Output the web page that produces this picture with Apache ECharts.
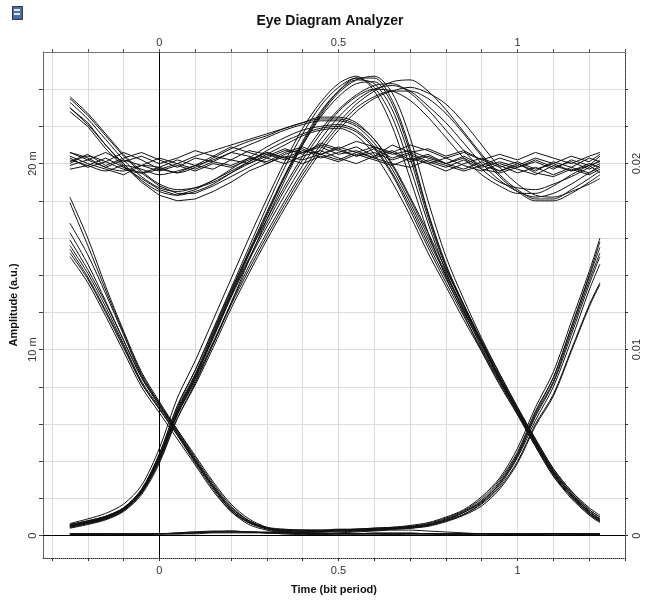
<!DOCTYPE html>
<html>
<head>
<meta charset="utf-8">
<script src="https://cdn.jsdelivr.net/npm/echarts@6/dist/echarts.min.js"></script>
<style>html,body{margin:0;padding:0;background:#fff}#chart{width:660px;height:600px}</style>
</head>
<body>
<div id="chart"></div>
<script>
// Time samples (bit period)
const timePoints = [-0.25,-0.2,-0.15,-0.1,-0.05,0,0.05,0.1,0.15,0.2,0.25,0.3,0.35,0.4,0.45,0.5,0.55,0.6,0.65,0.7,0.75,0.8,0.85,0.9,0.95,1,1.05,1.1,1.15,1.2,1.23];

// Amplitude values in milli-units (a.u. x 1e-3), grouped by bit pattern
const traces000 = [
  [0.1,0.1,0.05,0.1,0.1,0.1,0.15,0.2,0.25,0.25,0.2,0.15,0.1,0.1,0.05,0.1,0.1,0.1,0.1,0.1,0.1,0.05,0.1,0.1,0.1,0.1,0.1,0.1,0.1,0.1,0.1],
  [0.05,0.1,0.1,0.05,0.05,0.1,0.1,0.15,0.2,0.2,0.2,0.15,0.1,0.05,0.1,0.15,0.2,0.25,0.3,0.3,0.25,0.2,0.15,0.1,0.1,0.05,0.05,0.1,0.1,0.05,0.05]
];
const traces001 = [
  [0.1,0.05,0.1,0.1,0.05,0.1,0.1,0.15,0.2,0.2,0.2,0.15,0.15,0.15,0.2,0.2,0.25,0.3,0.35,0.45,0.6,0.85,1.25,1.85,2.8,4.3,6.4,8.2,10.8,13.5,15.0],
  [0.1,0.1,0.1,0.05,0.1,0.1,0.15,0.2,0.2,0.25,0.2,0.2,0.2,0.2,0.25,0.3,0.3,0.35,0.4,0.5,0.65,0.95,1.35,2.0,3.0,4.5,6.7,8.5,11.2,13.9,15.5],
  [0.1,0.1,0.1,0.1,0.1,0.1,0.1,0.1,0.15,0.15,0.15,0.15,0.2,0.2,0.2,0.25,0.25,0.3,0.35,0.4,0.55,0.8,1.15,1.75,2.7,4.2,6.2,8.0,10.5,13.2,14.6]
];
const traces100 = [
  [15.6,14.1,12.3,10.3,8.3,6.9,5.5,4.0,2.6,1.4,0.7,0.35,0.2,0.15,0.1,0.1,0.1,0.1,0.05,0.1,0.1,0.1,0.1,0.1,0.05,0.1,0.1,0.1,0.1,0.1,0.1],
  [18.2,16.0,13.4,11.0,8.8,7.2,5.7,4.2,2.8,1.6,0.8,0.4,0.2,0.15,0.15,0.1,0.1,0.1,0.1,0.1,0.1,0.1,0.1,0.1,0.1,0.1,0.05,0.1,0.1,0.1,0.1],
  [15.2,13.8,12.0,10.1,8.2,6.8,5.4,3.9,2.5,1.3,0.6,0.3,0.15,0.1,0.1,0.1,0.1,0.15,0.15,0.15,0.1,0.1,0.1,0.1,0.1,0.1,0.1,0.1,0.05,0.05,0.05],
  [16.8,15.1,13.0,10.8,8.6,7.1,5.7,4.3,2.9,1.7,0.9,0.45,0.25,0.15,0.1,0.1,0.1,0.1,0.1,0.1,0.1,0.1,0.05,0.1,0.1,0.1,0.1,0.1,0.1,0.1,0.1]
];
const traces101 = [
  [16.3,14.6,12.6,10.5,8.5,7.0,5.6,4.1,2.7,1.5,0.8,0.45,0.35,0.3,0.3,0.3,0.35,0.4,0.45,0.5,0.6,0.85,1.25,1.8,2.8,4.3,6.5,8.3,11.0,13.7,15.2],
  [15.4,13.9,12.1,10.2,8.2,6.8,5.4,4.0,2.6,1.4,0.75,0.4,0.3,0.3,0.25,0.3,0.3,0.35,0.4,0.45,0.55,0.8,1.15,1.7,2.6,4.0,6.0,7.6,10.0,12.4,13.6],
  [17.9,15.6,13.2,10.9,8.7,7.1,5.6,4.1,2.7,1.5,0.8,0.4,0.3,0.25,0.25,0.3,0.35,0.4,0.4,0.45,0.6,0.9,1.3,1.9,2.9,4.4,6.6,8.5,11.2,14.0,15.8],
  [15.0,13.6,11.8,9.9,8.0,6.6,5.2,3.8,2.4,1.3,0.7,0.4,0.3,0.3,0.3,0.35,0.35,0.4,0.45,0.55,0.7,1.0,1.4,2.1,3.1,4.7,6.9,8.8,11.5,14.2,16.0],
  [15.9,14.3,12.5,10.5,8.5,7.0,5.5,4.0,2.6,1.4,0.7,0.4,0.3,0.25,0.25,0.25,0.3,0.3,0.35,0.4,0.5,0.75,1.1,1.6,2.5,3.9,5.9,7.5,9.9,12.3,13.5]
];
const traces010 = [
  [0.55,0.75,1.0,1.45,2.4,4.2,6.8,8.7,10.9,13.1,15.3,17.4,19.4,21.2,22.8,23.9,24.5,24.3,22.9,20.3,17.1,14.4,12.3,10.3,8.4,6.7,5.0,3.4,2.2,1.2,0.8],
  [0.45,0.65,0.9,1.35,2.3,4.1,6.6,8.5,10.7,12.9,15.1,17.2,19.3,21.1,22.7,23.9,24.6,24.6,23.4,20.8,17.4,14.6,12.4,10.4,8.5,6.8,5.1,3.5,2.3,1.3,0.9],
  [0.6,0.8,1.05,1.5,2.5,4.4,7.0,8.9,11.1,13.3,15.5,17.7,19.8,21.6,23.1,24.1,24.6,24.1,22.5,19.8,16.8,14.2,12.1,10.1,8.3,6.6,4.9,3.3,2.1,1.15,0.75],
  [0.5,0.7,0.95,1.4,2.35,4.2,6.7,8.6,10.8,13.0,15.2,17.3,19.3,21.0,22.5,23.6,24.3,24.4,23.2,20.6,17.3,14.5,12.4,10.4,8.5,6.7,5.0,3.4,2.2,1.3,0.85],
  [0.4,0.6,0.85,1.3,2.2,3.9,6.3,8.2,10.3,12.5,14.8,17.0,19.1,21.0,22.6,23.8,24.5,24.7,23.8,21.4,18.0,15.0,12.7,10.6,8.7,6.9,5.2,3.6,2.4,1.4,1.0],
  [0.65,0.9,1.2,1.7,2.7,4.7,7.4,9.4,11.6,13.8,16.0,18.1,20.1,21.9,23.3,24.3,24.7,23.9,22.0,19.2,16.3,13.9,11.9,9.9,8.1,6.5,4.8,3.2,2.0,1.1,0.7]
];
const traces011 = [
  [0.55,0.75,1.0,1.45,2.4,4.2,6.6,8.5,10.6,12.8,14.8,16.6,18.3,19.9,21.3,22.5,23.4,24.0,24.2,23.9,23.1,22.2,21.1,20.0,19.1,18.5,18.2,18.4,18.9,19.5,19.8],
  [0.5,0.7,0.95,1.4,2.3,4.1,6.5,8.4,10.4,12.5,14.5,16.3,18.0,19.6,21.0,22.2,23.2,23.9,24.4,24.5,23.9,22.9,21.7,20.5,19.4,18.6,18.1,18.1,18.6,19.2,19.6],
  [0.6,0.8,1.05,1.5,2.45,4.3,6.7,8.6,10.7,12.9,14.9,16.8,18.6,20.2,21.6,22.8,23.6,24.0,23.9,23.4,22.5,21.4,20.3,19.4,18.8,18.4,18.4,18.8,19.4,19.9,20.1],
  [0.45,0.65,0.9,1.35,2.3,4.1,6.5,8.3,10.3,12.4,14.3,16.1,17.8,19.4,20.8,22.0,23.0,23.6,23.9,23.9,23.5,22.7,21.6,20.4,19.3,18.5,18.0,18.0,18.4,19.0,19.4],
  [0.5,0.7,0.95,1.45,2.45,4.4,6.9,8.9,11.0,13.2,15.2,17.0,18.8,20.4,21.8,22.9,23.7,24.2,24.3,23.8,22.9,21.8,20.7,19.7,19.0,18.7,18.6,18.9,19.3,19.8,20.2],
  [0.55,0.75,1.0,1.4,2.3,4.0,6.3,8.1,10.1,12.2,14.1,15.9,17.6,19.2,20.6,21.8,22.8,23.5,23.9,24.1,23.8,23.2,22.2,21.0,19.8,18.9,18.3,18.2,18.5,18.9,19.2]
];
const traces110 = [
  [23.3,22.4,21.3,20.2,19.3,18.7,18.5,18.7,19.1,19.7,20.3,20.9,21.4,21.8,22.0,22.1,21.8,20.9,19.5,17.7,15.7,13.8,12.0,10.2,8.4,6.7,5.0,3.4,2.2,1.3,0.9],
  [23.0,22.1,21.0,20.0,19.1,18.5,18.3,18.5,18.9,19.5,20.1,20.7,21.2,21.6,21.9,22.0,21.7,20.8,19.4,17.5,15.5,13.6,11.8,10.0,8.3,6.6,4.9,3.3,2.1,1.2,0.8],
  [20.2,19.9,19.6,19.9,19.7,19.4,19.6,19.9,20.2,20.6,21.0,21.4,21.8,22.1,22.3,22.3,22.0,21.1,19.7,17.9,15.9,14.0,12.1,10.3,8.5,6.7,5.0,3.4,2.2,1.3,0.9],
  [20.6,20.3,19.8,19.6,19.9,19.8,19.5,19.8,20.3,20.8,21.2,21.5,21.9,22.2,22.4,22.4,22.1,21.3,19.9,18.1,16.1,14.1,12.2,10.4,8.6,6.8,5.1,3.5,2.3,1.4,1.0],
  [20.0,20.4,20.1,19.7,19.5,19.7,20.0,20.4,20.7,21.0,21.3,21.6,21.9,22.2,22.5,22.5,22.2,21.3,20.0,18.2,16.3,14.3,12.4,10.5,8.7,6.9,5.2,3.6,2.4,1.5,1.1],
  [23.6,22.7,21.6,20.5,19.6,18.9,18.6,18.7,19.0,19.5,20.0,20.5,21.0,21.5,21.8,21.9,21.5,20.5,19.0,17.2,15.2,13.4,11.6,9.9,8.2,6.5,4.8,3.2,2.1,1.2,0.8]
];
const traces111 = [
  [20.1,20.5,19.9,20.3,20.6,20.2,19.8,20.3,20.1,20.6,20.4,20.0,20.5,20.8,20.3,20.6,20.9,20.4,20.7,20.2,20.5,20.0,20.4,19.9,20.3,20.0,19.6,20.1,19.8,20.3,20.1],
  [19.7,19.9,20.3,19.8,19.5,19.8,20.2,19.9,20.4,20.2,20.7,20.5,20.2,20.6,21.0,20.7,20.4,20.8,20.3,20.6,20.1,19.8,20.2,19.7,19.5,19.8,20.1,19.7,20.2,19.9,20.4],
  [23.5,22.6,21.5,20.4,19.5,18.8,18.4,18.4,18.8,19.3,19.8,20.3,20.7,20.6,20.9,20.5,20.7,20.3,20.6,20.1,20.4,20.0,19.7,20.1,19.6,19.9,20.3,20.0,20.4,20.1,20.5],
  [23.0,22.2,21.0,19.9,19.0,18.3,18.0,18.1,18.5,19.0,19.6,20.0,20.4,20.2,20.5,20.8,20.4,20.6,20.2,20.5,20.0,20.3,19.9,19.6,20.0,19.7,19.4,19.9,19.6,20.0,19.8],
  [20.4,20.0,19.7,19.4,19.9,19.6,19.9,19.6,20.0,19.8,20.2,20.6,20.3,20.0,20.4,20.1,20.5,20.2,19.9,20.3,20.0,19.6,20.0,20.3,19.9,19.5,19.8,19.4,19.8,19.5,19.9],
  [19.9,20.2,20.6,20.1,20.4,20.0,20.3,20.7,20.4,20.9,20.6,20.3,20.0,20.4,20.7,20.3,20.0,20.4,21.0,20.6,20.8,20.4,20.7,20.2,20.5,20.2,20.6,20.3,20.0,20.4,20.6],
  [22.8,22.0,20.8,19.8,19.2,18.6,18.3,18.6,19.1,19.6,20.1,20.6,20.3,20.7,20.5,20.9,20.6,20.9,20.5,20.7,20.3,20.0,20.3,19.8,20.1,19.8,20.2,19.8,20.1,19.7,20.0],
  [20.3,19.8,20.1,20.6,20.2,19.7,19.5,19.9,19.7,20.2,20.0,20.4,20.8,20.5,21.1,20.8,21.2,20.9,20.6,21.0,20.7,20.3,20.6,20.2,19.8,20.1,19.7,20.0,19.6,19.9,19.5],
  [20.6,20.2,19.8,20.2,19.9,20.3,20.0,19.7,20.1,19.9,20.3,20.1,20.6,20.9,20.5,20.2,20.6,20.3,20.0,19.8,20.2,19.9,19.6,19.9,19.6,20.0,19.5,19.3,19.7,19.4,19.7]
];

// Tick positions and labels
const xTickValues = [-0.3,-0.2,-0.1,0,0.1,0.2,0.3,0.4,0.5,0.6,0.7,0.8,0.9,1,1.1,1.2,1.3];
const xLabelValues = [0,0.5,1];
const yTickValues = [0,2,4,6,8,10,12,14,16,18,20,22,24];
const yLabelValues = [0,10,20];

const families = [
  {traces: traces000, smooth: 0.2},
  {traces: traces001, smooth: 0.3},
  {traces: traces100, smooth: 0.3},
  {traces: traces101, smooth: 0.3},
  {traces: traces010, smooth: 0.3},
  {traces: traces011, smooth: 0.3},
  {traces: traces110, smooth: 0.3},
  {traces: traces111, smooth: false}
];

const series = [];
families.forEach(f => {
  f.traces.forEach(tr => {
    series.push({
      type: 'line',
      data: timePoints.map((t, i) => [t, tr[i]]),
      showSymbol: false,
      smooth: f.smooth,
      silent: true,
      lineStyle: {color: '#111', width: 1},
      z: 3
    });
  });
});
series[0].markLine = {
  silent: true, symbol: 'none', label: {show: false}, animation: false,
  lineStyle: {color: '#000', width: 1, type: 'solid'},
  data: [{xAxis: 0}, {yAxis: 0}]
};

const labelFont = {fontFamily: 'Liberation Sans, Arial', fontSize: 11, color: '#333'};
const nameFont = {fontFamily: 'Liberation Sans, Arial', fontSize: 11, fontWeight: 'bold', color: '#111'};

const chart = echarts.init(document.getElementById('chart'), null, {renderer: 'canvas'});
chart.setOption({
  animation: false,
  backgroundColor: '#fff',
  title: {
    text: 'Eye Diagram Analyzer', left: 'center', top: 9,
    textStyle: {fontFamily: 'Liberation Sans, Arial', fontSize: 14, fontWeight: 'bold', color: '#111'}
  },
  graphic: [
    {type: 'rect', left: 12, top: 6, shape: {width: 10, height: 13}, style: {fill: '#4a6fa8', stroke: '#334', lineWidth: 1}},
    {type: 'rect', left: 14, top: 9, shape: {width: 6, height: 2}, style: {fill: '#dfe6f0'}},
    {type: 'rect', left: 14, top: 13, shape: {width: 6, height: 2}, style: {fill: '#dfe6f0'}}
  ],
  grid: {left: 43, right: 35, top: 52, bottom: 37, containLabel: false},
  xAxis: [
    {
      type: 'value', position: 'bottom', min: -0.325, max: 1.3,
      name: 'Time (bit period)', nameLocation: 'middle', nameGap: 26, nameTextStyle: nameFont,
      axisLine: {show: true, onZero: false, lineStyle: {color: '#333', type: 'dotted', width: 1}},
      axisTick: {show: true, customValues: xTickValues, length: 3, lineStyle: {color: '#333'}},
      axisLabel: {customValues: xLabelValues, margin: 7, ...labelFont, formatter: v => String(v)},
      splitLine: {show: true, lineStyle: {color: '#dcdcdc', width: 1}}
    },
    {
      type: 'value', position: 'top', min: -0.325, max: 1.3,
      axisLine: {show: true, onZero: false, lineStyle: {color: '#777', width: 1}},
      axisTick: {show: true, customValues: xTickValues, length: 3, lineStyle: {color: '#555'}},
      axisLabel: {customValues: xLabelValues, margin: 4, ...labelFont, formatter: v => String(v)},
      splitLine: {show: false}
    }
  ],
  yAxis: [
    {
      type: 'value', position: 'left', min: -1.2, max: 26,
      name: 'Amplitude (a.u.)', nameLocation: 'middle', nameGap: 20, nameRotate: 90, nameTextStyle: nameFont,
      axisLine: {show: true, onZero: false, lineStyle: {color: '#666', width: 1}},
      axisTick: {show: true, customValues: yTickValues, length: 4, lineStyle: {color: '#444'}},
      axisLabel: {customValues: yLabelValues, rotate: 90, margin: 5, ...labelFont, formatter: v => v === 0 ? '0' : v + ' m'},
      splitLine: {show: true, lineStyle: {color: '#dcdcdc', width: 1}}
    },
    {
      type: 'value', position: 'right', min: -1.2, max: 26,
      axisLine: {show: true, onZero: false, lineStyle: {color: '#333', type: 'dotted', width: 1}},
      axisTick: {show: true, customValues: yTickValues, length: 3, lineStyle: {color: '#333'}},
      axisLabel: {customValues: yLabelValues, rotate: 90, margin: 6, ...labelFont, formatter: v => v === 0 ? '0' : String(v / 1000)},
      splitLine: {show: false}
    }
  ],
  series: series
});
</script>
</body>
</html>
